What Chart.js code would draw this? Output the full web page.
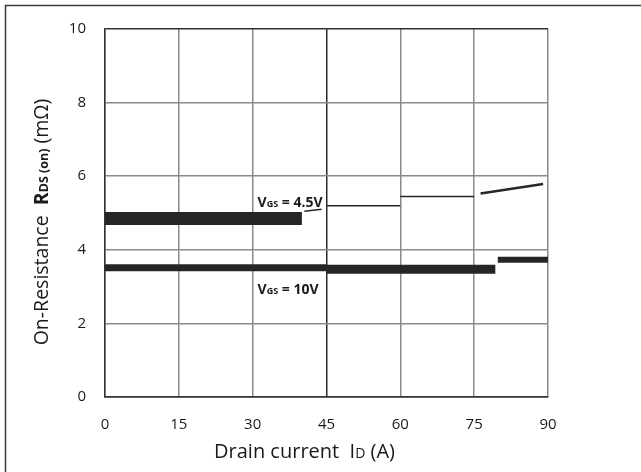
<!DOCTYPE html>
<html>
<head>
<meta charset="utf-8">
<script src="https://cdn.jsdelivr.net/npm/chart.js@4/dist/chart.umd.min.js"></script>
<style>
  html, body { margin: 0; padding: 0; background: #fff; }
  #wrap { position: relative; width: 641px; height: 472px; }
</style>
</head>
<body>
<div id="wrap"><canvas id="chart" width="641" height="472"></canvas></div>
<script>
// Данные
const xTicks = [0, 15, 30, 45, 60, 75, 90];
const yTicks = [0, 2, 4, 6, 8, 10];

// VGS = 4.5V: отрезки (начало/конец по току и по сопротивлению)
const vgs45X = [[0, 40], [40.5, 44], [45, 60], [60, 75], [76.3, 89]];
const vgs45Y = [[4.85, 4.85], [5.05, 5.1], [5.2, 5.2], [5.45, 5.45], [5.53, 5.79]];

// VGS = 10V
const vgs10X = [[0, 45], [45, 79.3], [79.8, 90]];
const vgs10Y = [[3.51, 3.51], [3.47, 3.47], [3.73, 3.73]];

const seriesLabels = ["4.5", "10"];

// толщина линий отрезков
const vgs45Widths = [13, 1.5, 1.5, 1.5, 2.5];
const vgs10Widths = [7, 9, 6];

const FONT = "'Open Sans', 'DejaVu Sans', sans-serif";

function makeSegments(xs, ys, widths, name) {
  return xs.map((x, i) => ({
    label: name + " #" + i,
    data: [{ x: x[0], y: ys[i][0] }, { x: x[1], y: ys[i][1] }],
    showLine: true,
    borderColor: "#262626",
    borderWidth: widths[i],
    borderCapStyle: "butt",
    pointRadius: 0,
    fill: false,
    tension: 0,
  }));
}

const datasets = [
  ...makeSegments(vgs45X, vgs45Y, vgs45Widths, "VGS 4.5V"),
  ...makeSegments(vgs10X, vgs10Y, vgs10Widths, "VGS 10V"),
];

// текст с подстрочными частями: [текст, размер, жирный, сдвиг]
function drawRuns(ctx, runs, x, y) {
  let cx = x;
  runs.forEach(([t, size, bold, dy]) => {
    ctx.font = (bold ? "bold " : "") + size + "px " + FONT;
    ctx.fillText(t, cx, y + (dy || 0));
    cx += ctx.measureText(t).width;
  });
  return cx;
}
function runsWidth(ctx, runs) {
  let w = 0;
  runs.forEach(([t, size, bold]) => {
    ctx.font = (bold ? "bold " : "") + size + "px " + FONT;
    w += ctx.measureText(t).width;
  });
  return w;
}

const annotations = {
  id: "annotations",
  afterDraw(chart) {
    const ctx = chart.ctx;
    const xs = chart.scales.x, ys = chart.scales.y;
    ctx.save();
    ctx.fillStyle = "#1a1a1a";
    ctx.textBaseline = "alphabetic";
    ctx.textAlign = "left";

    // подписи кривых
    drawRuns(ctx, [["V", 14, true], ["GS", 9, true], [" = " + seriesLabels[0] + "V", 14, true]],
      xs.getPixelForValue(31), ys.getPixelForValue(5.16));
    drawRuns(ctx, [["V", 14, true], ["GS", 9, true], [" = " + seriesLabels[1] + "V", 14, true]],
      xs.getPixelForValue(31), ys.getPixelForValue(2.80));

    // подпись оси X
    const xRuns = [["Drain current  I", 20, false], ["D", 14, false], [" (A)", 20, false]];
    const xw = runsWidth(ctx, xRuns);
    const xc = (xs.left + xs.right) / 2 - 22;
    drawRuns(ctx, xRuns, xc - xw / 2, 458);

    // подпись оси Y
    const yRuns = [["On-Resistance  ", 19.5, false], ["R", 19.5, true], ["DS (on)", 12.5, true], [" (m\u03A9)", 19.5, false]];
    const yw = runsWidth(ctx, yRuns);
    ctx.translate(48, (ys.top + ys.bottom) / 2 + 9);
    ctx.rotate(-Math.PI / 2);
    drawRuns(ctx, yRuns, -yw / 2, 0);
    ctx.restore();

    // рамка
    ctx.save();
    ctx.strokeStyle = "#3a3a3a";
    ctx.lineWidth = 1.5;
    ctx.beginPath();
    ctx.moveTo(5.5, 472);
    ctx.lineTo(5.5, 5.5);
    ctx.lineTo(641, 5.5);
    ctx.stroke();
    ctx.restore();
  },
};

const ctx = document.getElementById("chart").getContext("2d");
new Chart(ctx, {
  type: "scatter",
  data: { datasets },
  options: {
    responsive: false,
    animation: false,
    layout: { padding: { left: 0, top: 29, right: 93, bottom: 0 } },
    plugins: { legend: { display: false }, tooltip: { enabled: false } },
    scales: {
      x: {
        type: "linear",
        min: 0,
        max: 90,
        afterBuildTicks: (s) => { s.ticks = xTicks.map((v) => ({ value: v })); },
        afterFit: (s) => { s.height = 75; },
        grid: {
          drawTicks: false,
          lineWidth: 1.5,
          color: (c) => (c.tick && c.tick.value === 45 ? "#2a2a2a" : "#8a8a8a"),
        },
        border: { color: "#333", width: 1.5 },
        ticks: { padding: 19, color: "#1a1a1a", font: { family: FONT, size: 15 } },
      },
      y: {
        type: "linear",
        min: 0,
        max: 10,
        afterBuildTicks: (s) => { s.ticks = yTicks.map((v) => ({ value: v })); },
        afterFit: (s) => { s.width = 105; },
        grid: {
          drawTicks: false,
          lineWidth: 1.5,
          color: (c) => (c.tick && (c.tick.value === 10 || c.tick.value === 0) ? "#333" : "#8a8a8a"),
        },
        border: { color: "#333", width: 1.5 },
        ticks: { padding: 19, color: "#1a1a1a", font: { family: FONT, size: 15 } },
      },
    },
  },
  plugins: [annotations],
});
</script>
</body>
</html>
